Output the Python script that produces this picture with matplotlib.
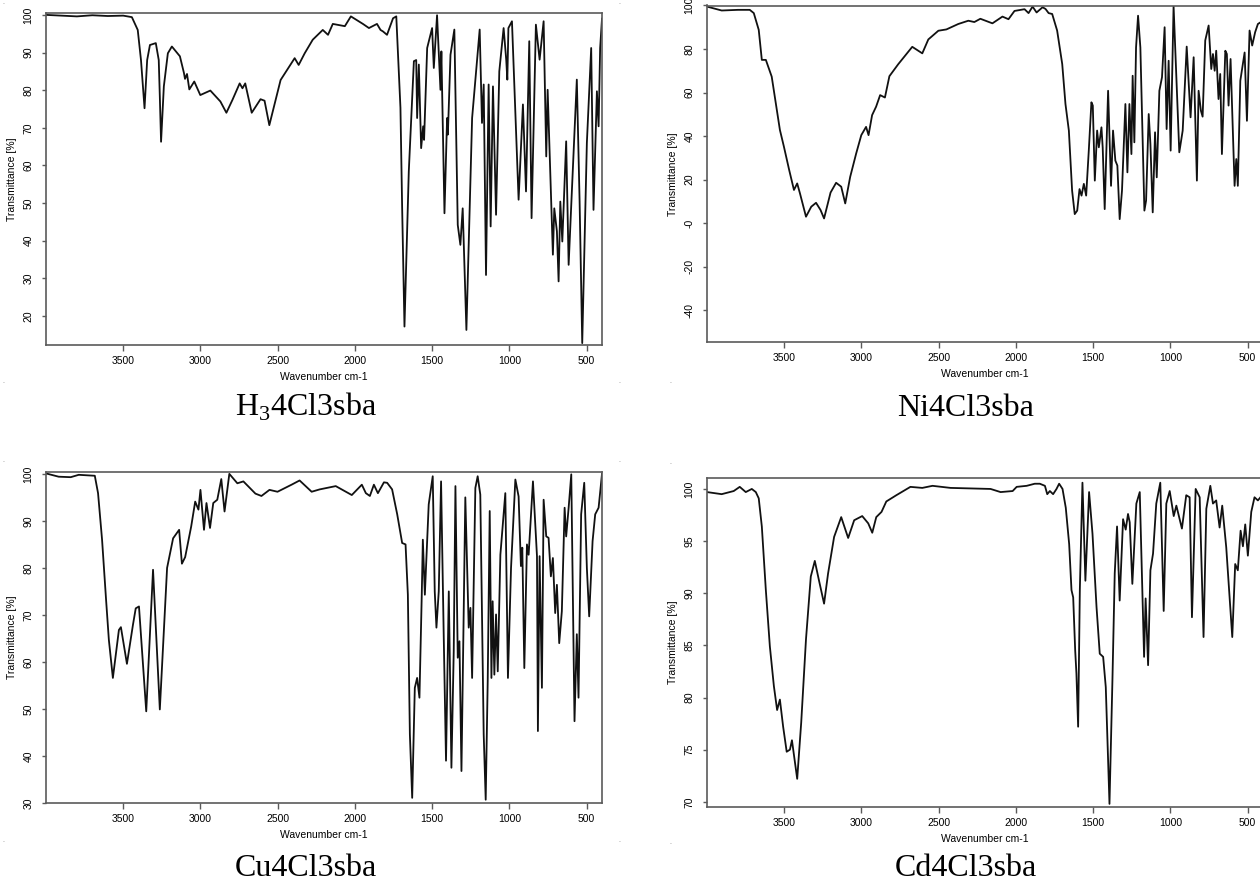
import matplotlib
matplotlib.use('Agg')
import matplotlib.pyplot as plt

plt.rcParams['font.family'] = ['Liberation Sans', 'DejaVu Sans']
plt.rcParams['mathtext.fontset'] = 'custom'
plt.rcParams['mathtext.rm'] = 'Liberation Serif'

# spectra: wavenumber (cm-1) and transmittance (%)
wn_h3 = [4000, 3900, 3800, 3700, 3600, 3500, 3444, 3406, 3385, 3362, 3345, 3327, 3289, 3270, 3263,
         3255, 3237, 3211, 3185, 3133, 3107, 3100, 3087, 3072, 3040, 3001, 2936, 2871, 2832, 2793,
         2746, 2728, 2710, 2668, 2611, 2585, 2554, 2481, 2390, 2364, 2325, 2273, 2208, 2174, 2143,
         2065, 2026, 1948, 1909, 1857, 1834, 1818, 1792, 1753, 1732, 1705, 1694, 1679, 1651, 1618,
         1603, 1597, 1586, 1571, 1558, 1552, 1532, 1500, 1489, 1468, 1446, 1440, 1420, 1403, 1398,
         1381, 1356, 1334, 1317, 1302, 1278, 1241, 1192, 1177, 1166, 1151, 1134, 1121, 1106, 1086,
         1065, 1037, 1020, 1013, 1006, 983, 940, 912, 892, 871, 856, 828, 804, 778, 761,
         752, 718, 709, 692, 681, 670, 657, 632, 616, 601, 563, 545, 528, 498, 470,
         455, 433, 422, 412, 400]
t_h3 = [100, 99.8, 99.6, 99.9, 99.7, 99.8, 99.4, 96, 88, 75.2, 88, 92, 92.5, 88, 78.3,
        66.3, 81, 89.8, 91.6, 89, 84.6, 83, 84.3, 80.2, 82.3, 78.7, 79.9, 77, 74, 77.4,
        81.8, 80.5, 81.8, 74, 77.6, 77.2, 70.7, 82.7, 88.5, 86.7, 89.8, 93.4, 96, 94.7, 97.6,
        97, 99.6, 97.6, 96.5, 97.6, 96, 95.6, 94.7, 99.1, 99.6, 75.3, 48.7, 17.2, 58.4, 87.7,
        88, 72.6, 86.8, 64.6, 70.4, 66.8, 91.2, 96.5, 85.9, 99.9, 80.1, 90.3, 47.3, 72.6, 68.2,
        89.4, 96.1, 44.2, 38.9, 48.6, 16.3, 72.6, 96.1, 71.3, 81.5, 30.9, 81.5, 43.8, 81, 46.9,
        85, 96.5, 88, 82.8, 96.5, 98.3, 50.9, 76.2, 53.1, 93, 46, 97.4, 88.1, 98.3, 62.4,
        80.1, 36.3, 48.6, 42.5, 29.2, 50.4, 39.8, 66.4, 33.6, 47.7, 82.8, 50.4, 12.8, 66, 91.2,
        48.2, 79.7, 70.4, 91.2, 99]

wn_ni = [4000, 3905, 3800, 3723, 3697, 3665, 3645, 3619, 3581, 3528, 3502, 3468, 3437, 3416, 3398,
         3359, 3325, 3294, 3265, 3242, 3200, 3164, 3131, 3105, 3073, 3034, 3001, 2970, 2954, 2931,
         2905, 2879, 2848, 2819, 2762, 2671, 2606, 2567, 2502, 2450, 2373, 2308, 2269, 2230, 2152,
         2087, 2048, 2009, 1944, 1918, 1892, 1866, 1827, 1808, 1788, 1765, 1733, 1700, 1679, 1657,
         1636, 1619, 1603, 1588, 1575, 1560, 1545, 1528, 1511, 1502, 1489, 1474, 1463, 1446, 1438,
         1425, 1403, 1384, 1371, 1356, 1343, 1328, 1313, 1291, 1278, 1265, 1252, 1244, 1233, 1222,
         1209, 1194, 1168, 1157, 1140, 1129, 1114, 1099, 1088, 1071, 1054, 1037, 1024, 1011, 998,
         979, 942, 920, 894, 869, 849, 828, 817, 802, 791, 774, 752, 735, 724, 713,
         703, 688, 677, 666, 644, 634, 623, 610, 584, 573, 563, 547, 519, 504, 487,
         470, 451, 433, 400]
t_ni = [99.5, 97.7, 98, 98, 96.5, 88.8, 75, 75, 67.3, 42.8, 35.1, 24.4, 15.2, 18.2, 13.6,
        2.9, 7.5, 9.3, 6, 2.1, 14, 18.5, 16.7, 9, 21.2, 32, 40.4, 44.2, 40.4, 49.6,
        53.5, 58.8, 57.7, 67.5, 73, 81, 78, 84.4, 88.4, 89, 91.5, 93, 92.4, 93.9, 91.8,
        94.9, 93.7, 97.5, 98.3, 96.5, 99.5, 96.8, 99.2, 98.4, 96.5, 96.1, 88.5, 73.1, 54.7, 42.5,
        14.9, 4.1, 5.7, 15.6, 12.6, 18, 12.6, 33.3, 55.5, 54, 19.5, 42.5, 34.8, 44, 34.8,
        6.4, 60.8, 17.1, 42.5, 28.7, 26.4, 1.8, 14.9, 54.7, 23.3, 54.7, 31.7, 67.7, 37.1, 80.7,
        95.3, 80.7, 5.7, 10.3, 50.1, 36.3, 4.9, 41.7, 21, 60.8, 67, 90, 43.2, 74.6, 33.3,
        99.8, 32.5, 42.5, 81.1, 48.6, 76.2, 19.5, 60.8, 51.6, 48.9, 83.9, 90.8, 70.8, 77.7, 70,
        79.2, 57, 68.5, 31.7, 79.2, 77.7, 54, 75.4, 17.1, 29.4, 17.1, 65.4, 78.4, 47, 88.5,
        81.6, 87.7, 91.5, 93]

wn_cu = [4000, 3918, 3840, 3788, 3684, 3663, 3637, 3611, 3593, 3567, 3528, 3515, 3476, 3437, 3419,
         3398, 3351, 3307, 3263, 3216, 3177, 3138, 3120, 3099, 3060, 3034, 3013, 3000, 2977, 2961,
         2938, 2917, 2891, 2865, 2844, 2813, 2761, 2722, 2644, 2605, 2553, 2501, 2410, 2358, 2280,
         2228, 2124, 2020, 1955, 1929, 1903, 1877, 1851, 1812, 1791, 1759, 1726, 1694, 1672, 1657,
         1644, 1629, 1612, 1597, 1582, 1567, 1560, 1547, 1522, 1496, 1483, 1472, 1457, 1442, 1425,
         1410, 1392, 1375, 1360, 1349, 1334, 1323, 1310, 1285, 1263, 1252, 1241, 1220, 1205, 1188,
         1166, 1153, 1140, 1127, 1116, 1108, 1097, 1086, 1075, 1058, 1026, 1009, 989, 961, 940,
         925, 916, 903, 886, 875, 847, 821, 815, 804, 789, 778, 761, 746, 731, 718,
         703, 692, 677, 660, 642, 632, 616, 599, 578, 563, 552, 535, 515, 498, 483,
         461, 444, 422, 400]
t_cu = [100.1, 99.4, 99.3, 99.8, 99.6, 95.9, 86, 73.2, 64.7, 56.6, 66.8, 67.4, 59.6, 67.9, 71.4,
        71.8, 49.5, 79.6, 49.9, 80, 86.3, 88.1, 80.9, 82.3, 88.8, 94.1, 92.4, 96.6, 88.1, 93.8,
        88.5, 93.8, 94.5, 98.9, 92, 100, 98, 98.4, 95.8, 95.3, 96.6, 96.2, 97.7, 98.6, 96.2,
        96.7, 97.4, 95.5, 97.7, 95.9, 95.3, 97.7, 95.9, 98.2, 98.1, 96.7, 91.4, 85.3, 85, 74.3,
        44.6, 31.1, 54.5, 56.6, 52.4, 74.3, 86, 74.3, 93.5, 99.5, 75, 67.3, 75, 98.4, 65.9,
        39, 75, 37.5, 62.3, 97.4, 60.9, 64.4, 36.8, 95, 67.3, 71.5, 56.6, 97, 99.5, 95.6,
        44.6, 30.7, 55.9, 92.1, 56.6, 72.9, 57.3, 70.1, 58, 82.8, 95.9, 56.6, 80, 98.8, 95.2,
        80.4, 84.3, 58.7, 85, 82.8, 98.4, 82.5, 45.3, 82.5, 54.5, 94.5, 86.7, 86.4, 78.2, 82.1,
        70.4, 76.4, 64, 70.8, 92.8, 86.7, 92.8, 99.9, 47.4, 65.9, 52.4, 91.4, 98.1, 80, 69.7,
        85.7, 91.4, 92.8, 100]

wn_cd = [4000, 3905, 3827, 3788, 3749, 3710, 3684, 3665, 3645, 3619, 3593, 3567, 3546, 3528, 3507,
         3484, 3463, 3450, 3416, 3390, 3359, 3328, 3302, 3276, 3242, 3216, 3177, 3131, 3086, 3047,
         2995, 2956, 2930, 2904, 2870, 2839, 2774, 2683, 2606, 2540, 2423, 2164, 2099, 2021, 1995,
         1930, 1878, 1845, 1812, 1797, 1780, 1759, 1737, 1720, 1698, 1677, 1655, 1640, 1629, 1616,
         1608, 1597, 1586, 1569, 1550, 1526, 1504, 1478, 1457, 1435, 1418, 1394, 1375, 1360, 1345,
         1328, 1306, 1289, 1274, 1263, 1246, 1220, 1198, 1170, 1160, 1144, 1129, 1112, 1091, 1065,
         1043, 1026, 1004, 978, 961, 925, 897, 875, 860, 836, 810, 785, 767, 741, 724,
         703, 681, 664, 638, 599, 580, 563, 545, 530, 515, 498, 476, 455, 433, 400]
t_cd = [99.7, 99.5, 99.8, 100.2, 99.7, 100, 99.7, 99.1, 96.4, 90.3, 84.9, 81.1, 78.8, 79.8, 77.2,
        74.8, 75, 75.9, 72.2, 77.6, 85.6, 91.6, 93.1, 91.3, 89, 91.9, 95.4, 97.3, 95.3, 97,
        97.4, 96.7, 95.8, 97.3, 97.8, 98.8, 99.4, 100.2, 100.1, 100.3, 100.1, 100, 99.7, 99.8, 100.2,
        100.3, 100.5, 100.5, 100.3, 99.5, 99.8, 99.5, 100, 100.5, 100, 98.2, 94.7, 90.3, 89.6, 84.5,
        82.3, 77.2, 90.3, 100.6, 91.2, 99.7, 95.7, 88.7, 84.2, 83.9, 81, 69.8, 81.6, 91.9, 96.4,
        89.3, 97.1, 96.1, 97.6, 96.8, 90.9, 98.6, 99.7, 83.9, 89.5, 83.1, 92.2, 93.8, 98.6, 100.6,
        88.3, 98.6, 99.8, 97.4, 98.4, 96.2, 99.4, 99.2, 87.7, 100, 99.2, 85.8, 98.1, 100.3, 98.6,
        98.9, 96.3, 98.4, 94.4, 85.8, 92.8, 92.2, 96, 94.5, 96.6, 93.6, 97.8, 99.2, 98.9, 99.5]

x_ticks = [3500, 3000, 2500, 2000, 1500, 1000, 500]
y_ticks_h3 = [20, 30, 40, 50, 60, 70, 80, 90, 100]
y_ticks_ni = [-40, -20, 0, 20, 40, 60, 80, 100]
y_labels_ni = ['-40', '-20', '-0', '20', '40', '60', '80', '100']
y_ticks_cu = [30, 40, 50, 60, 70, 80, 90, 100]
y_ticks_cd = [70, 75, 80, 85, 90, 95, 100]

W, H = 1260, 883
fig = plt.figure(figsize=(12.6, 8.83), dpi=100)


def panel(px_left, px_top, px_bottom, wn, t, ylim, yticks, ylabels=None):
    ax = fig.add_axes([px_left / W, 1 - px_bottom / H, 556 / W, (px_bottom - px_top) / H])
    ax.plot(wn, t, color='#111111', lw=1.3)
    ax.set_xlim(4000, 400)
    ax.set_ylim(*ylim)
    ax.set_xticks(x_ticks)
    ax.set_yticks(yticks)
    if ylabels:
        ax.set_yticklabels(ylabels)
    for s in ax.spines.values():
        s.set_color('#5a5a5a')
        s.set_linewidth(1.2)
    ax.tick_params(axis='x', length=4, width=1, color='#5a5a5a', pad=4, labelsize=7.5)
    ax.tick_params(axis='y', length=3, width=1, color='#5a5a5a', pad=6, labelsize=7.5)
    for lab in ax.get_yticklabels():
        lab.set_rotation(90)
        lab.set_va('center')
    ax.set_xlabel('Wavenumber cm-1', fontsize=7.5, labelpad=4)
    ax.set_ylabel('Transmittance [%]', fontsize=7.5, labelpad=5)
    return ax


panel(46, 13, 345, wn_h3, t_h3, (12.3, 100.5), y_ticks_h3)
panel(707, 5.5, 342, wn_ni, t_ni, (-54.7, 100), y_ticks_ni, y_labels_ni)
panel(46, 472, 803, wn_cu, t_cu, (30, 100.4), y_ticks_cu)
panel(707, 478, 807, wn_cd, t_cd, (69.5, 101.05), y_ticks_cd)

cap = dict(fontsize=23, ha='center', va='baseline', family='Liberation Serif')
fig.text(306 / W, 1 - 416 / H, r'H$_{\mathrm{3}}$4Cl3sba', **cap)
fig.text(966 / W, 1 - 416 / H, 'Ni4Cl3sba', **cap)
fig.text(306 / W, 1 - 876 / H, 'Cu4Cl3sba', **cap)
fig.text(966 / W, 1 - 876 / H, 'Cd4Cl3sba', **cap)

# small stray marks around the panels
for mx, my in [(3, 3), (619, 3), (3, 381), (619, 381), (670, 381), (3, 461),
               (619, 461), (670, 462), (3, 840), (619, 840), (670, 843)]:
    fig.text(mx / W, 1 - my / H, '.', fontsize=5, color='#777777', ha='center', va='center')

fig.savefig('out.png', dpi=100)
